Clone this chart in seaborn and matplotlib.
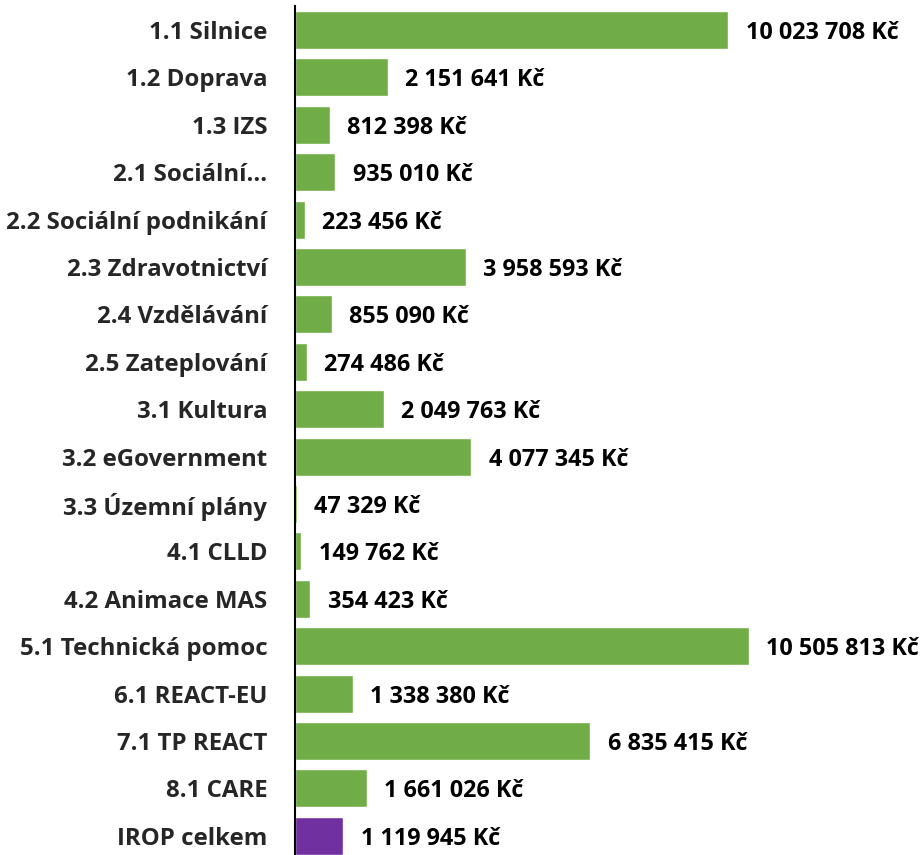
import matplotlib
matplotlib.use("Agg")
import matplotlib.pyplot as plt
import seaborn as sns
import pandas as pd

# Data
categories = [
    "1.1 Silnice", "1.2 Doprava", "1.3 IZS", "2.1 Sociální…",
    "2.2 Sociální podnikání", "2.3 Zdravotnictví", "2.4 Vzdělávání",
    "2.5 Zateplování", "3.1 Kultura", "3.2 eGovernment", "3.3 Územní plány",
    "4.1 CLLD", "4.2 Animace MAS", "5.1 Technická pomoc", "6.1 REACT-EU",
    "7.1 TP REACT", "8.1 CARE", "IROP celkem",
]
values = [
    10023708, 2151641, 812398, 935010, 223456, 3958593, 855090, 274486,
    2049763, 4077345, 47329, 149762, 354423, 10505813, 1338380, 6835415,
    1661026, 1119945,
]
bar_colors = ["#70AD47"] * 17 + ["#7030A0"]

df = pd.DataFrame({"kategorie": categories, "castka": values})

sns.set_style("white")
plt.rcParams["font.family"] = ["Open Sans", "DejaVu Sans"]
plt.rcParams["font.weight"] = "bold"

fig = plt.figure(figsize=(9.22, 8.55), dpi=100)
ax = fig.add_axes([295 / 922, 0, 1 - 295 / 922, (855 - 6.3) / 855])

sns.barplot(data=df, y="kategorie", x="castka", hue="kategorie",
            palette=bar_colors, saturation=1, orient="h", width=0.8,
            legend=False, ax=ax)

ax.set_xlim(0, 14.51e6)
ax.set_ylim(17.405, -0.5)

for cont in ax.containers:
    labels = [f"{v:,.0f} Kč".replace(",", " ") for v in cont.datavalues]
    texts = ax.bar_label(cont, labels=labels, padding=12.5, fontsize=16.8,
                         fontweight="bold", color="#000000")
    for t in texts:
        t.set_va("center_baseline")

ax.set_xlabel("")
ax.set_ylabel("")
ax.set_xticks([])
ax.tick_params(axis="y", length=0, pad=20, labelsize=17.3)
for lbl in ax.get_yticklabels():
    lbl.set_fontweight("bold")

for side in ["top", "right", "bottom"]:
    ax.spines[side].set_visible(False)
ax.spines["left"].set_color("black")
ax.spines["left"].set_linewidth(1.5)

fig.savefig("out.png", dpi=100)
